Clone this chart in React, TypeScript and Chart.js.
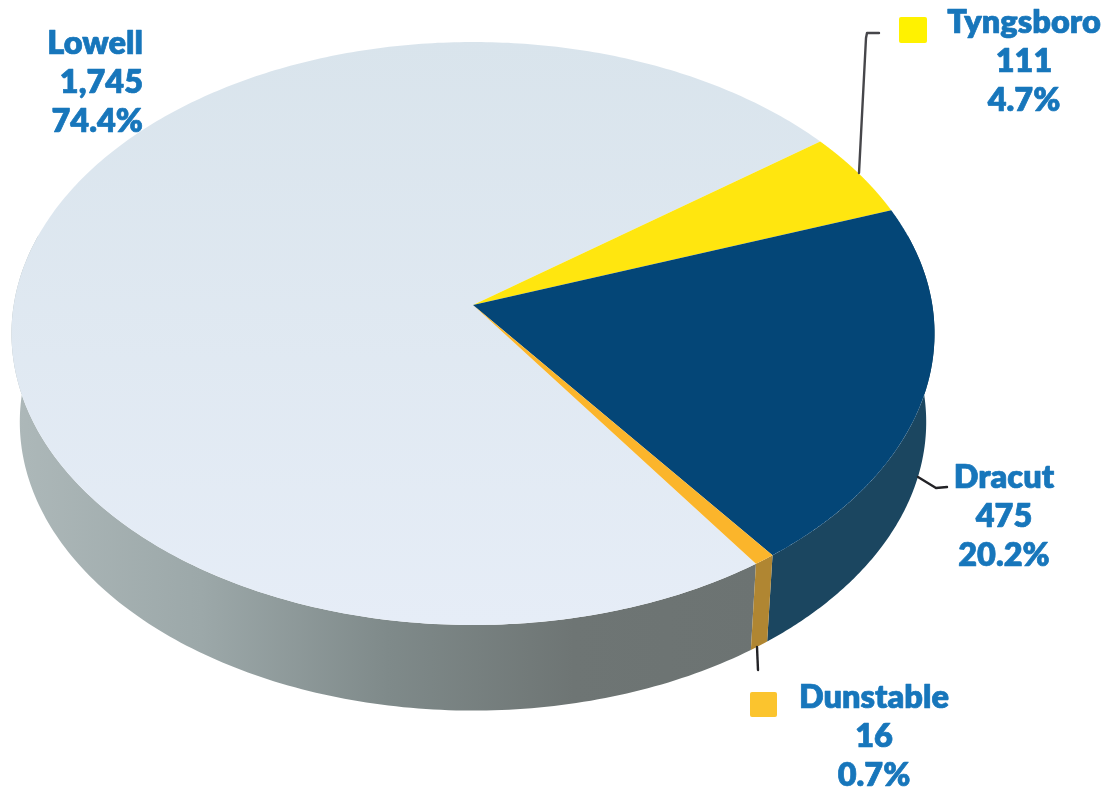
import React, { useEffect, useRef } from "react";
import { Chart, registerables } from "chart.js";

Chart.register(...registerables);

const towns = ["Lowell", "Tyngsboro", "Dracut", "Dunstable"];
const residents = [1745, 111, 475, 16];
const topColors = ["#e0e8f2", "#ffe60f", "#044677", "#fbb52b"];
const sideColors = [
  ["#adb8b9", "#9ca8a9", "#7f8a8a", "#6e7574", "#6c7372"],
  ["#c9b40f"],
  ["#1b4660"],
  ["#b08632"],
];
const lowellTopShade = ["#d9e4ec", "#e6edf7"];

// Where the tilted disc sits on the canvas and how strongly it is foreshortened.
const disc = {
  cx: 473,
  cy: 305,
  halfWidth: 459.3,
  halfHeight: 288.7,
  tilt: -0.0978,
  ellipseCy: 333.5,
  drop: 88.5,
  lowerScaleX: 0.982,
  lowerScaleY: 0.99,
};
const sideOverscan = 0.25;

// Annotation layout: text anchor, alignment, first baseline.
const labelLayout = [
  { x: 143, y: 54, align: "right" },
  { x: 1024, y: 33, align: "center" },
  { x: 1004, y: 488, align: "center" },
  { x: 874, y: 708, align: "center" },
];
const swatches = [
  { x: 899, y: 17, w: 28, h: 26, color: "#fff200" },
  { x: 750, y: 692, w: 27, h: 25, color: "#fbc42e" },
];
const leaderLines = [
  { color: "#46464a", points: [[859, 173], [866, 38], [867, 33], [879, 33]] },
  { color: "#222226", points: [[918, 477], [936, 488], [947, 487]] },
  { color: "#222226", points: [[757, 647], [758, 670]] },
];

const rim = (angle: number) => {
  const v = Math.sin(angle);
  const w = 1 + disc.tilt * v;
  return { x: disc.cx + (disc.halfWidth * Math.cos(angle)) / w, y: disc.cy + (disc.halfHeight * v) / w };
};

const lowerRim = (angle: number) => {
  const p = rim(angle);
  return {
    x: disc.cx + (p.x - disc.cx) * disc.lowerScaleX,
    y: disc.ellipseCy + (p.y - disc.ellipseCy) * disc.lowerScaleY + disc.drop,
  };
};

const tiltedPie = {
  id: "tiltedPie",
  // Replaces the flat arcs with the same slices projected onto a thick disc.
  beforeDatasetsDraw(chart: any) {
    const ctx = chart.ctx;
    const arcs = chart.getDatasetMeta(0).data;
    const spans = arcs.map((arc: any) => {
      const { startAngle, endAngle } = arc.getProps(["startAngle", "endAngle"], true);
      return [startAngle, endAngle];
    });
    const full = Math.PI * 2;

    spans.forEach(([a0, a1]: number[], i: number) => {
      for (const shift of [-full, 0, full]) {
        const from = Math.max(a0 + shift, -sideOverscan);
        const to = Math.min(a1 + shift, Math.PI + sideOverscan);
        if (to <= from) continue;
        const gradient = ctx.createLinearGradient(15, 0, 760, 0);
        const stops = sideColors[i];
        stops.forEach((c, k) => gradient.addColorStop(stops.length > 1 ? k / (stops.length - 1) : 0, c));
        ctx.beginPath();
        const steps = 160;
        for (let s = 0; s <= steps; s++) {
          const p = rim(from + ((to - from) * s) / steps);
          s ? ctx.lineTo(p.x, p.y) : ctx.moveTo(p.x, p.y);
        }
        for (let s = steps; s >= 0; s--) {
          const p = lowerRim(from + ((to - from) * s) / steps);
          ctx.lineTo(p.x, p.y);
        }
        ctx.closePath();
        ctx.fillStyle = gradient;
        ctx.fill();
      }
    });

    spans.forEach(([a0, a1]: number[], i: number) => {
      ctx.beginPath();
      ctx.moveTo(disc.cx, disc.cy);
      const steps = 360;
      for (let s = 0; s <= steps; s++) {
        const p = rim(a0 + ((a1 - a0) * s) / steps);
        ctx.lineTo(p.x, p.y);
      }
      ctx.closePath();
      if (i === 0) {
        const shade = ctx.createLinearGradient(0, 40, 0, 625);
        shade.addColorStop(0, lowellTopShade[0]);
        shade.addColorStop(1, lowellTopShade[1]);
        ctx.fillStyle = shade;
      } else {
        ctx.fillStyle = topColors[i];
      }
      ctx.fill();
    });
    return false;
  },
  afterDraw(chart: any) {
    const ctx = chart.ctx;
    const total = residents.reduce((a, b) => a + b, 0);

    ctx.save();
    ctx.lineWidth = 2.4;
    ctx.lineJoin = "round";
    ctx.lineCap = "round";
    leaderLines.forEach((line) => {
      ctx.strokeStyle = line.color;
      ctx.beginPath();
      line.points.forEach(([x, y], k) => (k ? ctx.lineTo(x, y) : ctx.moveTo(x, y)));
      ctx.stroke();
    });

    swatches.forEach((s) => {
      ctx.fillStyle = s.color;
      ctx.beginPath();
      ctx.roundRect(s.x, s.y, s.w, s.h, 2);
      ctx.fill();
    });

    ctx.fillStyle = "#1776bb";
    ctx.strokeStyle = "#1776bb";
    ctx.lineWidth = 0.7;
    ctx.font = "800 32.5px Lato";
    towns.forEach((town, i) => {
      const place = labelLayout[i];
      const lines = [town, residents[i].toLocaleString("en-US"), ((residents[i] / total) * 100).toFixed(1) + "%"];
      ctx.textAlign = place.align;
      ctx.textBaseline = "alphabetic";
      lines.forEach((text, k) => {
        ctx.fillText(text, place.x, place.y + k * 39);
        ctx.strokeText(text, place.x, place.y + k * 39);
      });
    });
    ctx.restore();
  },
};

export default function App() {
  const canvasRef = useRef<HTMLCanvasElement>(null);

  useEffect(() => {
    document.body.style.margin = "0";
    document.body.style.background = "#ffffff";
    const chart = new Chart(canvasRef.current as HTMLCanvasElement, {
      type: "pie",
      data: {
        labels: towns,
        datasets: [{ data: residents, backgroundColor: topColors, borderWidth: 0 }],
      },
      options: {
        animation: false,
        responsive: false,
        rotation: 145.5,
        plugins: { legend: { display: false }, tooltip: { enabled: false } },
      },
      plugins: [tiltedPie],
    });
    return () => chart.destroy();
  }, []);

  return <canvas ref={canvasRef} width={1114} height={792} style={{ display: "block" }} />;
}
